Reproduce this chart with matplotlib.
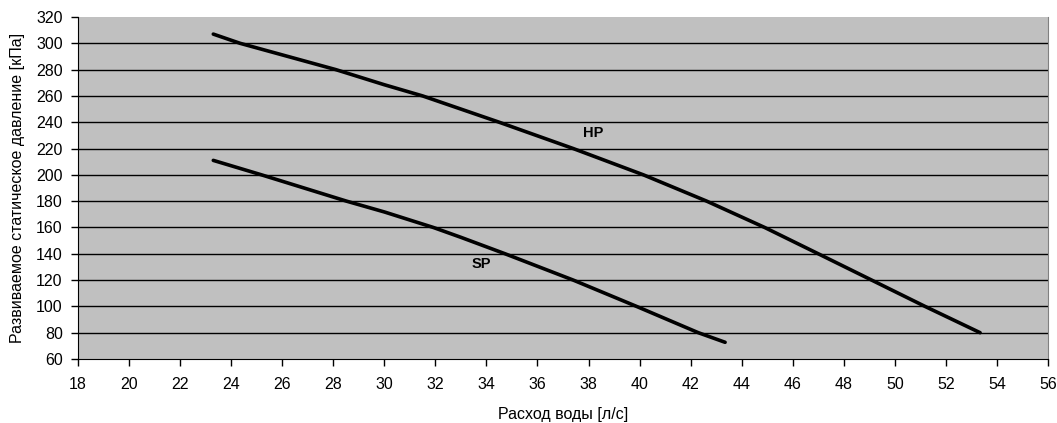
import matplotlib
matplotlib.use('Agg')
import matplotlib.pyplot as plt

plt.rcParams['font.family'] = ['Liberation Sans', 'DejaVu Sans']

# flow [l/s] vs static pressure [kPa]
hp_x = [23.3, 24.35, 28.1, 30.0, 31.5, 33.0, 34.5, 37.4, 40.15, 42.63, 44.9, 47.0, 49.09, 51.18, 53.34]
hp_y = [307, 300, 280, 268.5, 260, 250, 240, 220, 200, 180, 160, 140, 120, 100, 80]
sp_x = [23.3, 25.19, 28.52, 30.0, 31.92, 33.0, 34.73, 37.4, 39.88, 42.3, 43.35]
sp_y = [211, 200, 180, 171.8, 160, 152.5, 140, 120, 100, 80, 72.7]

xticks = list(range(18, 57, 2))
yticks = list(range(60, 321, 20))

fig = plt.figure(figsize=(10.57, 4.23), dpi=100)
ax = fig.add_axes([0.0738, 0.1513, 0.9177, 0.8085])
ax.set_facecolor('#c0c0c0')

for y in yticks[1:-1]:
    ax.axhline(y, color='black', lw=1.0, zorder=1)

ax.plot(hp_x, hp_y, color='black', lw=2.6, zorder=3, solid_capstyle='round', solid_joinstyle='round')
ax.plot(sp_x, sp_y, color='black', lw=2.6, zorder=3, solid_capstyle='round', solid_joinstyle='round')

ax.text(38.2, 231.5, 'HP', fontsize=10.5, fontweight='bold', ha='center', va='center')
ax.text(33.8, 132, 'SP', fontsize=10.5, fontweight='bold', ha='center', va='center')

ax.set_xlim(18, 56)
ax.set_ylim(60, 320)
ax.set_xticks(xticks)
ax.set_yticks(yticks)
ax.tick_params(labelsize=11.5, length=5, width=1, direction='out', color='black')
ax.tick_params(axis='x', pad=8)
ax.tick_params(axis='y', pad=6)

ax.spines['top'].set_visible(False)
ax.spines['right'].set_color('#808080')
ax.spines['left'].set_color('black')
ax.spines['bottom'].set_color('black')

ax.set_xlabel('Расход воды [л/с]', fontsize=11.5, labelpad=11)
ax.set_ylabel('Развиваемое статическое давление [кПа]', fontsize=11.5, labelpad=8)

fig.savefig('out.png', dpi=100)
